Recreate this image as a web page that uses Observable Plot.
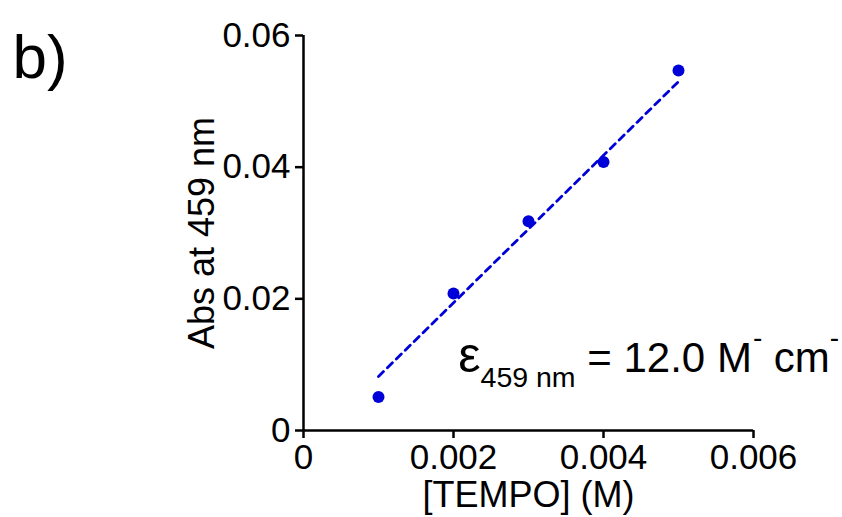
<!DOCTYPE html>
<html>
<head>
<meta charset="utf-8">
<script src="https://cdn.jsdelivr.net/npm/d3@7"></script>
<script src="https://cdn.jsdelivr.net/npm/@observablehq/plot@0.6"></script>
<style>
  html, body { margin: 0; padding: 0; background: #fff; }
  #chart { width: 842px; height: 517px; }
</style>
</head>
<body>
<div id="chart"></div>
<script>
// Data
const tempo = [0.001, 0.002, 0.003, 0.004, 0.005];
const absorbance = [0.0051, 0.0208, 0.0318, 0.0408, 0.0547];
const fitX = [0.001, 0.005];
const fitY = [0.0082, 0.0530];
const xTicks = [0, 0.002, 0.004, 0.006];
const yTicks = [0, 0.02, 0.04, 0.06];
const panelLabel = "b)";
const xLabel = "[TEMPO] (M)";
const yLabel = "Abs at 459 nm";
const annoPos = {x: 0.00207, y: 0.0088};

const points = tempo.map((x, i) => ({x, y: absorbance[i]}));
const fit = fitX.map((x, i) => ({x, y: fitY[i]}));
const blue = "#0000d8";

const plot = Plot.plot({
  width: 842,
  height: 517,
  marginLeft: 303,
  marginRight: 89,
  marginTop: 35,
  marginBottom: 87,
  style: {fontFamily: "'Liberation Sans', Arial, sans-serif", fontSize: "35px", color: "#000", background: "#fff"},
  x: {domain: [0, 0.006]},
  y: {domain: [0, 0.06]},
  marks: [
    Plot.axisX({ticks: xTicks, tickSize: 8, tickPadding: 6, strokeWidth: 2.5, label: null, tickFormat: d => d === 0 ? "0" : d3.format(".3f")(d)}),
    Plot.axisY({ticks: yTicks, tickSize: 8, tickPadding: 5, strokeWidth: 2.5, label: null, tickFormat: d => d === 0 ? "0" : d3.format(".2f")(d)}),
    Plot.ruleX([0], {y1: 0, y2: 0.06, strokeWidth: 2.5, stroke: "#000"}),
    Plot.ruleY([0], {x1: 0, x2: 0.006, strokeWidth: 2.5, stroke: "#000"}),
    Plot.line(fit, {x: "x", y: "y", stroke: blue, strokeWidth: 2.8, strokeDasharray: "7,5.5"}),
    Plot.dot(points, {x: "x", y: "y", r: 6, fill: blue, stroke: "none"}),
    Plot.text([yLabel], {frameAnchor: "left", textAnchor: "middle", rotate: -90, lineAnchor: "bottom", dx: -90, fontSize: 36}),
    Plot.text([xLabel], {frameAnchor: "bottom", textAnchor: "middle", lineAnchor: "bottom", dy: 76, fontSize: 36}),
    Plot.text([panelLabel], {frameAnchor: "top-left", textAnchor: "start", lineAnchor: "bottom", dx: -291, dy: 42, fontSize: 62})
  ]
});

// Annotation with subscript / superscripts
const svg = d3.select(plot);
const xs = plot.scale("x"), ys = plot.scale("y");
const t = svg.append("text")
  .attr("x", xs.apply(annoPos.x))
  .attr("y", ys.apply(annoPos.y))
  .attr("text-anchor", "start")
  .attr("fill", "#000")
  .attr("font-size", 42);
t.append("tspan").attr("font-size", 50).text("ε");
t.append("tspan").attr("font-size", 28.5).attr("dy", 15).text("459 nm");
t.append("tspan").attr("dy", -15).text(" = 12.0 M");
t.append("tspan").attr("font-size", 28).attr("dy", -25).attr("dx", 1).text("-");
t.append("tspan").attr("dy", 25).text(" cm");
t.append("tspan").attr("font-size", 28).attr("dy", -25).text("-");

document.getElementById("chart").appendChild(plot);
</script>
</body>
</html>
